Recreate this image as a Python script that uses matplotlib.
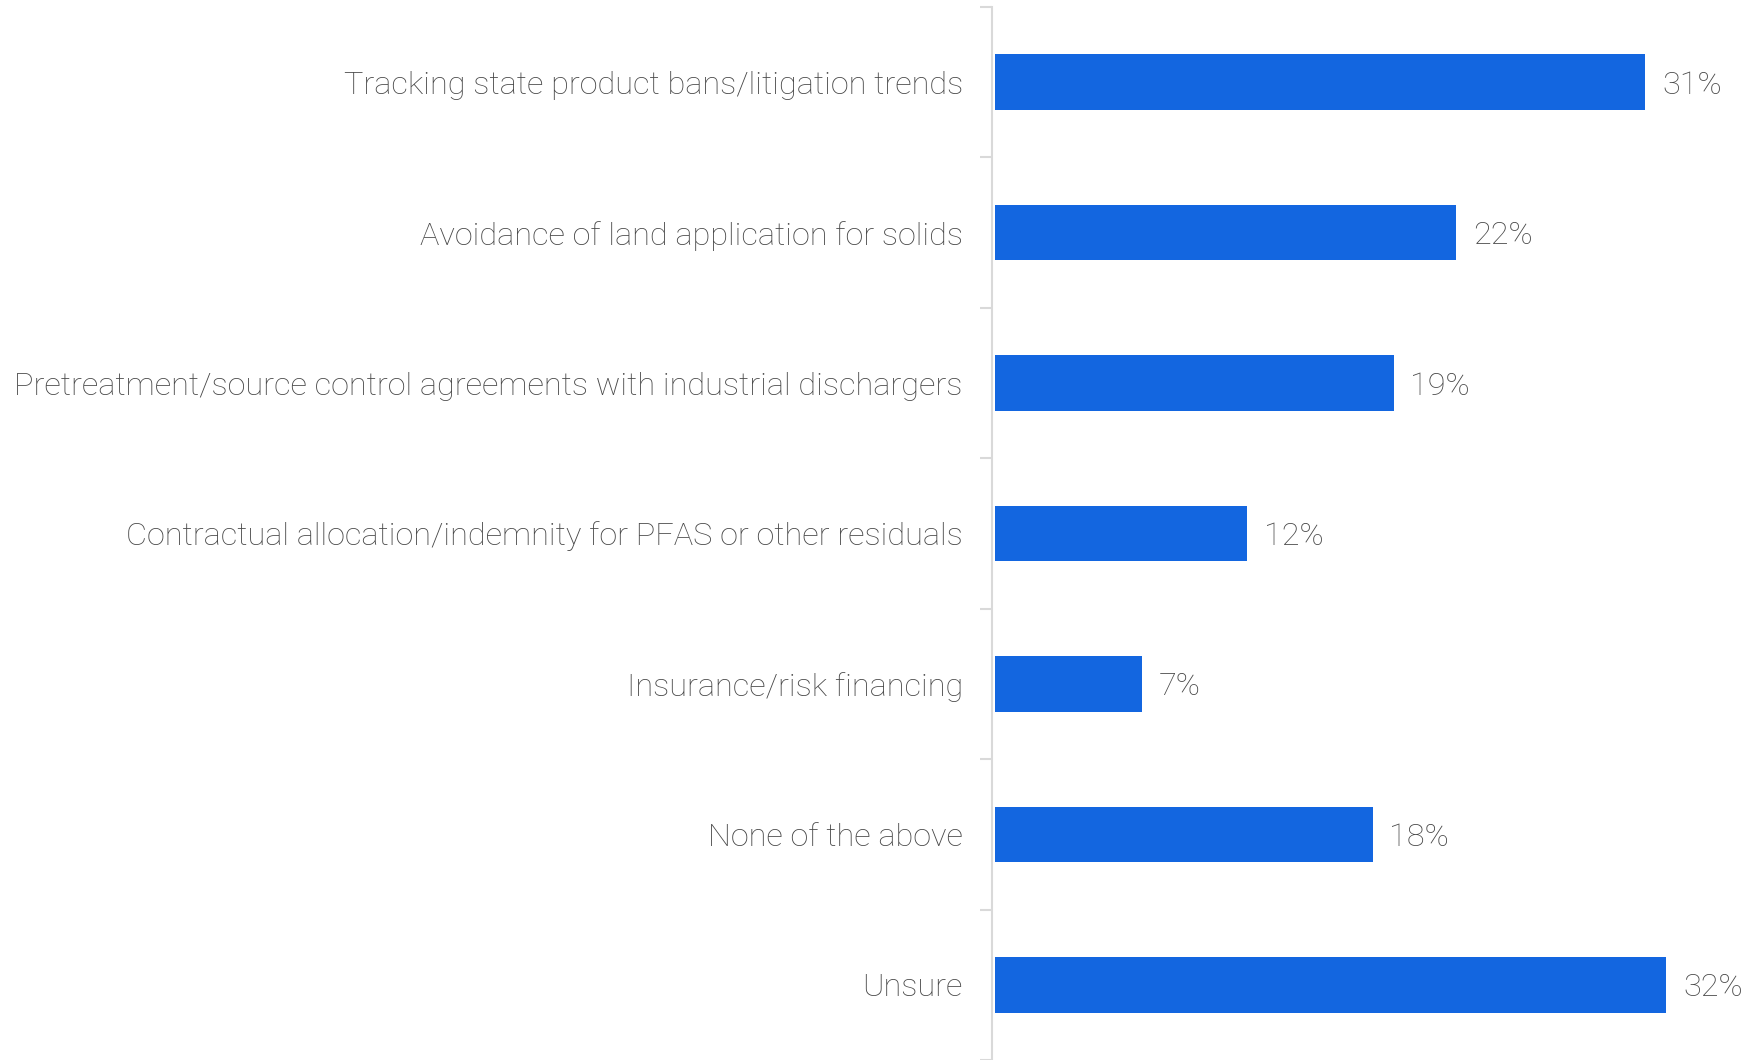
import numpy as np
import matplotlib
matplotlib.use("Agg")
import matplotlib.pyplot as plt

plt.rcParams['font.family'] = ['Roboto', 'DejaVu Sans']

categories = [
    "Tracking state product bans/litigation trends",
    "Avoidance of land application for solids",
    "Pretreatment/source control agreements with industrial dischargers",
    "Contractual allocation/indemnity for PFAS or other residuals",
    "Insurance/risk financing",
    "None of the above",
    "Unsure",
]
values = [31, 22, 19, 12, 7, 18, 32]

BAR_COLOR = "#1366e0"
TEXT_COLOR = "#484848"
AXIS_COLOR = "#d9d9d9"

fig = plt.figure(figsize=(17.49, 10.6), dpi=100)
ax = fig.add_axes([992 / 1749, 0, 1 - 992 / 1749, 1 - 7 / 1060])

y = np.arange(len(categories))
ax.barh(y, values, height=0.37, color=BAR_COLOR, left=0.15)
ax.set_ylim(len(categories) - 0.5, -0.5)
ax.set_xlim(0, 36.1)

for yi, v in zip(y, values):
    ax.text(v + 0.15 + 0.8, yi, f"{v}%", va="center_baseline", ha="left",
            fontsize=23.4, color=TEXT_COLOR, fontweight="light")

ax.set_yticks(y)
ax.set_yticklabels(categories, fontsize=23.4, color=TEXT_COLOR, fontweight="light")
ax.set_yticks(np.arange(-0.5, len(categories), 1), minor=True)
ax.tick_params(axis="y", which="major", length=0, pad=21)
ax.tick_params(axis="y", which="minor", length=9, width=1.5, color=AXIS_COLOR)
ax.set_xticks([])

for s in ["top", "right", "bottom"]:
    ax.spines[s].set_visible(False)
ax.spines["left"].set_color(AXIS_COLOR)
ax.spines["left"].set_linewidth(1.5)

fig.savefig("out.png", dpi=100)
